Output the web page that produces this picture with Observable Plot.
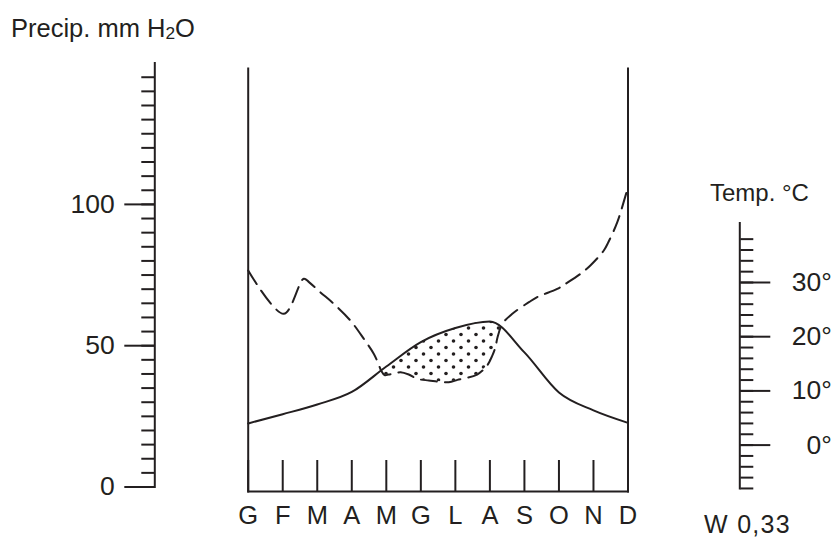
<!DOCTYPE html>
<html><head><meta charset="utf-8">
<script src="https://cdn.jsdelivr.net/npm/d3@7"></script>
<script src="https://cdn.jsdelivr.net/npm/@observablehq/plot@0.6"></script>
<style>
html,body{margin:0;padding:0;background:#fff;}
#chart{position:relative;width:832px;height:538px;overflow:hidden;font-family:"Liberation Sans",Arial,Helvetica,sans-serif;color:#231f20;background:#fff;}
#chart svg{position:absolute;left:0;top:0;}
.lbl{position:absolute;white-space:nowrap;font-size:24px;line-height:1;}
</style></head><body>
<div id="chart">
  <div class="lbl" style="left:11px;top:16px;font-size:25.5px">Precip. mm H<span style="font-size:0.68em;vertical-align:-0.12em">2</span>O</div>
  <div class="lbl" style="left:710px;top:181px">Temp. °C</div>
  <div class="lbl" style="left:704px;top:512px;font-size:25px;letter-spacing:1.3px">W 0,33</div>
</div>
<script>
// ---------- data ----------
const monthLabels = ["G","F","M","A","M","G","L","A","S","O","N","D"];
const tempC = [4.0, 5.7, 7.5, 9.8, 14.5, 19.0, 21.6, 22.8, 17.1, 9.7, 6.4, 4.1];
// precipitation curve (position in months, mm)
const precipAt = [0, 1.03, 1.61, 1.76, 2.09, 2.48, 2.96, 3.35, 3.64, 3.78, 3.85, 3.95, 4.07, 4.27, 4.41, 4.65, 4.89, 5.23, 5.81, 6.06, 6.63, 6.92, 7.07, 7.16, 7.22, 7.36, 7.65, 8.13, 8.37, 8.95, 9.19, 9.62, 9.91, 10.30, 10.43, 10.69, 10.95, 11];
const precipMm = [76.6, 61.3, 73.7, 72.5, 68.9, 64.8, 58.9, 52.4, 47.1, 43.3, 41.2, 39.6, 39.8, 40.3, 40.6, 39.8, 38.3, 37.7, 37.1, 37.9, 39.8, 43.0, 46.5, 49.5, 52.9, 57.7, 61.3, 65.4, 67.2, 70.1, 71.9, 75.4, 78.4, 83.7, 86.6, 93.7, 104.0, 106.0];
const precipMajor = [0, 50, 100];
const precipMinor = d3.range(0, 150, 5);
const tempMajor = [0, 10, 20, 30];
const tempMinor = d3.range(-8, 40, 2);
const tempAxisExtent = [-8, 41];
const precipAxisExtent = [0, 150];

// ---------- layout ----------
const W = 832, H = 538;
const INK = "#231f20";
const PY = {domain: [0, 150], range: [486.5, 62.6]};
const tY = d3.scaleLinear([0, 30], [444.6, 282]);
const pY = d3.scaleLinear(PY.domain, PY.range);
const BOX = {left: 247.7, right: 627.5, top: 68, bottom: 491};
const AXP = 154.3, AXT = 739.3;
const baseStyle = {fontFamily: "Liberation Sans, Arial, Helvetica, sans-serif", fontSize: "25px", color: INK, background: "transparent", overflow: "visible"};

const tempRows = tempC.map((t, i) => ({m: i, mm: pY.invert(tY(t))}));
const precipRows = precipAt.map((m, i) => ({m, mm: precipMm[i]}));

const chart = document.getElementById("chart");

// left precipitation axis
const svgA = Plot.plot({
  width: W, height: H,
  marginLeft: AXP, marginRight: W - AXP - 5,
  marginTop: pY(precipAxisExtent[1]), marginBottom: H - pY(precipAxisExtent[0]),
  y: {domain: PY.domain, range: PY.range},
  style: baseStyle,
  marks: [
    Plot.frame({anchor: "left", stroke: INK, strokeWidth: 2}),
    Plot.axisY({anchor: "left", ticks: precipMinor, tickSize: 13, tickFormat: () => "", strokeWidth: 2, label: null}),
    Plot.axisY({anchor: "left", ticks: precipMajor, tickSize: 30, tickPadding: 10, strokeWidth: 2, label: null, fontSize: 26.5})
  ]
});

// central diagram
const svgB = Plot.plot({
  width: W, height: H,
  marginLeft: BOX.left, marginRight: W - BOX.right, marginTop: BOX.top, marginBottom: H - BOX.bottom,
  x: {domain: [0, 11]},
  y: {domain: PY.domain, range: PY.range, axis: null},
  style: baseStyle,
  marks: [
    Plot.areaY(tempRows, {x: "m", y: "mm", curve: "monotone-x", fill: "url(#stipple)"}),
    Plot.areaY(precipRows, {x: "m", y: "mm", curve: "catmull-rom", fill: "white"}),
    Plot.line(precipRows, {x: "m", y: "mm", curve: "catmull-rom", stroke: INK, strokeWidth: 2, strokeDasharray: "16,8"}),
    Plot.line(tempRows, {x: "m", y: "mm", curve: "monotone-x", stroke: INK, strokeWidth: 2}),
    Plot.frame({anchor: "left", stroke: INK, strokeWidth: 2}),
    Plot.frame({anchor: "right", stroke: INK, strokeWidth: 2}),
    Plot.frame({anchor: "bottom", stroke: INK, strokeWidth: 2}),
    Plot.axisX({ticks: d3.range(12), tickSize: -31, tickPadding: 45, tickFormat: i => monthLabels[i], strokeWidth: 2, label: null, fontSize: 25.5})
  ]
});

// right temperature axis
const svgC = Plot.plot({
  width: W, height: H,
  marginLeft: AXT - 5, marginRight: W - AXT,
  marginTop: tY(tempAxisExtent[1]), marginBottom: H - tY(tempAxisExtent[0]),
  y: {domain: tempAxisExtent, range: [tY(tempAxisExtent[0]), tY(tempAxisExtent[1])]},
  style: baseStyle,
  marks: [
    Plot.frame({anchor: "right", stroke: INK, strokeWidth: 2}),
    Plot.axisY({anchor: "right", ticks: tempMinor, tickSize: 13, tickFormat: () => "", strokeWidth: 2, label: null}),
    Plot.axisY({anchor: "right", ticks: tempMajor, tickSize: 30, tickPadding: 62, textAnchor: "end", tickFormat: d => `${d}°`, strokeWidth: 2, label: null, fontSize: 26.5})
  ]
});

const ns = "http://www.w3.org/2000/svg";
const defs = document.createElementNS(ns, "defs");
defs.innerHTML = `<pattern id="stipple" patternUnits="userSpaceOnUse" width="15" height="13"><circle cx="3.5" cy="3" r="1.8" fill="${INK}"/><circle cx="11" cy="9.5" r="1.8" fill="${INK}"/></pattern>`;
svgB.insertBefore(defs, svgB.firstChild);

chart.prepend(svgA, svgB, svgC);
</script>
</body></html>
